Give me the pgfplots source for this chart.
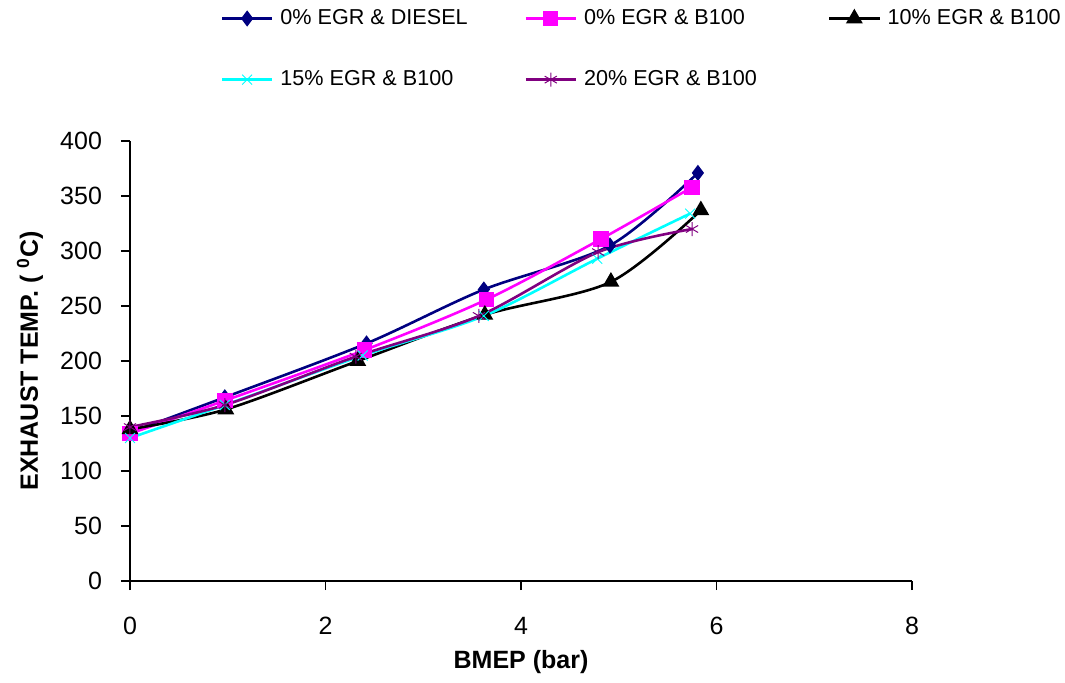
\documentclass[border=0pt]{standalone}
\usepackage{pgfplots}
\pgfplotsset{compat=1.18}
\usepackage{fontspec}
\setmainfont{Liberation Sans}
\definecolor{cdiesel}{RGB}{0,0,128}
\definecolor{cbhun}{RGB}{255,0,255}
\definecolor{cfifteen}{RGB}{0,255,255}
\definecolor{ctwenty}{RGB}{128,0,128}
\begin{document}
\begin{tikzpicture}
\begin{axis}[
  scale only axis,
  width=391pt, height=220pt,
  xmin=0, xmax=8, ymin=0, ymax=400,
  xtick={0,2,4,6,8}, ytick={0,50,...,400},
  axis x line*=bottom, axis y line*=left,
  axis line style={line width=0.8pt, -},
  tick align=outside,
  major tick length=4.5pt,
  tick style={line width=0.8pt, black},
  /pgf/number format/assume math mode=true,
  ticklabel style={font=\fontsize{12.5}{14}\selectfont},
  xticklabel style={yshift=-10pt},
  yticklabel style={xshift=-6pt},
  xlabel={\bfseries BMEP (bar)},
  ylabel={\bfseries EXHAUST TEMP. ( \textsuperscript{0}C)},
  label style={font=\fontsize{12.5}{14}\selectfont},
  xlabel style={at={(axis description cs:0.5,-0.184)}, anchor=center},
  ylabel style={at={(axis description cs:-0.128,0.5)}, anchor=center},
  legend columns=3,
  legend cell align=left,
  legend style={draw=none, fill=none, font=\fontsize{10.8}{13}\selectfont,
    at={(axis description cs:0.108,1.318)}, anchor=north west,
    /tikz/every odd column/.append style={column sep=1.5pt},
    /tikz/every even column/.append style={column sep=0pt},
    row sep=17.5pt},
  legend image code/.code={\draw[mark repeat=2,mark phase=2] plot coordinates {(0pt,0pt) (12.5pt,0pt) (25pt,0pt)};},
  every axis plot/.append style={line width=1.3pt, smooth, tension=0.5},
]
\addplot[color=cdiesel, mark=diamond*, mark size=3pt, mark options={solid, fill=cdiesel}] coordinates {
 (0,135) (0.97,167) (2.42,216) (3.62,265) (4.91,305) (5.81,371)};
\addlegendentry{\makebox[120pt][l]{0\% EGR \& DIESEL}}
\addplot[color=cbhun, mark=square*, mark size=3.2pt, mark options={solid, fill=cbhun}] coordinates {
 (0,134) (0.97,164) (2.40,210) (3.65,256) (4.82,311) (5.75,358)};
\addlegendentry{\makebox[120pt][l]{0\% EGR \& B100}}
\addplot[color=black, mark=triangle*, mark size=3.6pt, mark options={solid, fill=black}] coordinates {
 (0,138) (0.98,156) (2.33,200) (3.63,242) (4.92,272) (5.84,337)};
\addlegendentry{10\% EGR \& B100}
\addplot[color=cfifteen, mark=x, mark size=3.5pt, mark options={solid, line width=0.5pt}] coordinates {
 (0,130) (0.97,160) (2.38,205) (3.62,241) (4.78,293) (5.73,334)};
\addlegendentry{\makebox[120pt][l]{15\% EGR \& B100}}
\addplot[color=ctwenty, mark=asterisk, mark size=3.5pt, mark options={solid, line width=0.5pt}] coordinates {
 (0,140) (0.97,160) (2.31,204) (3.57,241) (4.79,299) (5.75,320)};
\addlegendentry{\makebox[120pt][l]{20\% EGR \& B100}}
\end{axis}
\pgfresetboundingbox
\path ([shift={(-65pt,-50.5pt)}]current axis.south west) rectangle ([shift={(467.5pt,290.5pt)}]current axis.south west);
\end{tikzpicture}
\end{document}
